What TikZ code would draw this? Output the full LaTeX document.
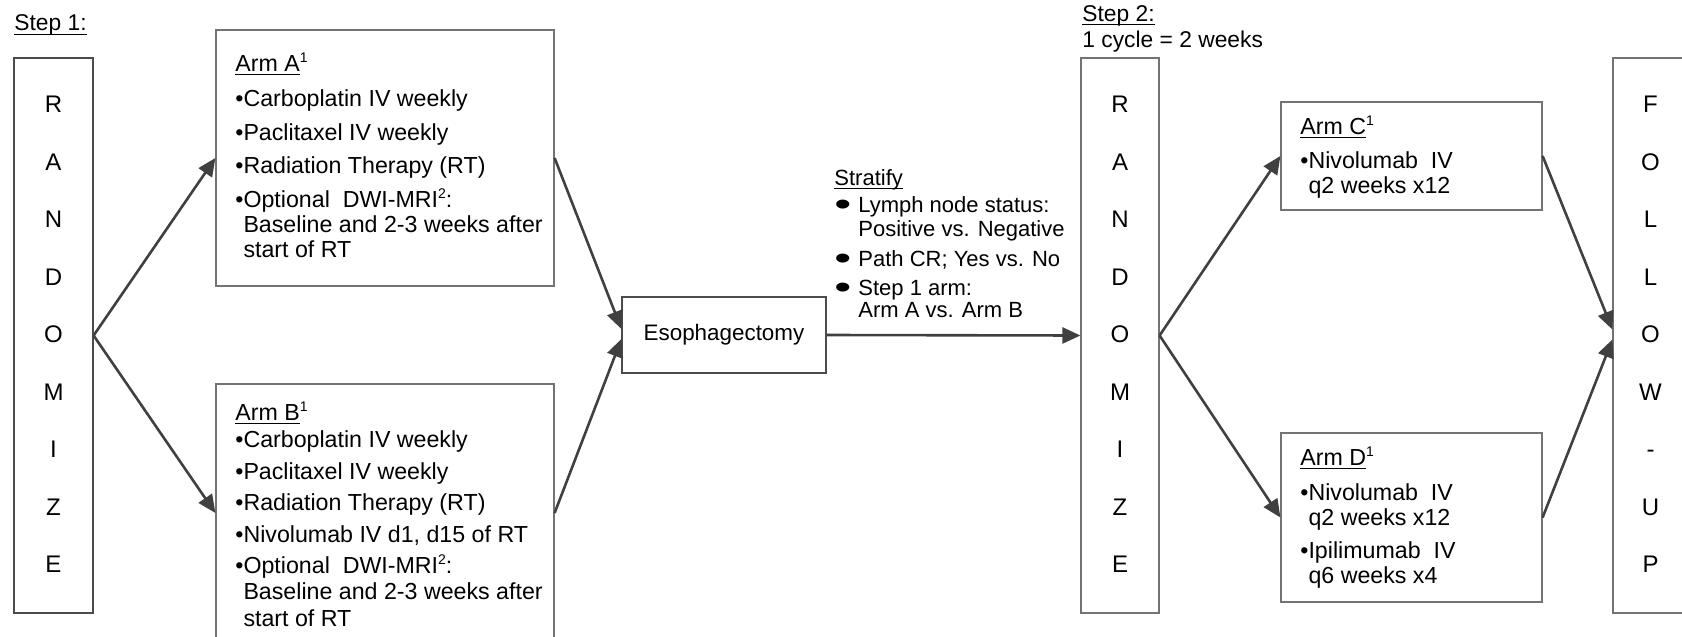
\documentclass[tikz,border=0pt]{standalone}
\usepackage{fontspec}
\setmainfont{Liberation Sans}
\usepackage{graphicx}
\usetikzlibrary{arrows.meta}

% marcador achatado da lista de estratificacao
\newcommand{\stbullet}{\makebox[12pt][l]{\raisebox{-1.6pt}{\scalebox{2.2}[1.5]{\textbullet}}}}
% sublinhado rente a linha de base
\newcommand{\sublin}[1]{\setbox0\hbox{#1}\rlap{\rule[-1.9pt]{\wd0}{0.6pt}}\box0}
% expoente pequeno
\newcommand{\expo}[1]{\raisebox{4.6pt}{\fontsize{7}{7}\selectfont #1}}

\begin{document}
\begin{tikzpicture}[x=0.5pt, y=-0.5pt,
    font=\fontsize{11.6}{12.5}\selectfont,
    caixa/.style 2 args={draw=black!55, line width=0.6pt, inner sep=0pt,
      minimum width=#1*0.5pt, minimum height=#2*0.5pt},
    letra/.style={inner sep=0pt, text height=8.6pt, text depth=0pt, font=\fontsize{12}{12}\selectfont},
    texto/.style={anchor=north west, inner sep=0pt, align=left},
    seta/.style={draw=black!75, line width=1.3pt, -{Triangle[length=9pt,width=8pt]}}]
  \useasboundingbox (0,0) rectangle (1682,637);
  % Titulos das etapas
  \node[anchor=base west, inner sep=0pt, font=\fontsize{11.4}{12}\selectfont] (passo1) at (14,31) {\sublin{Step 1:}};
  \node[anchor=base west, inner sep=0pt, font=\fontsize{11.4}{12}\selectfont] (passo2) at (1082,21) {\sublin{Step 2:}};
  \node[anchor=base west, inner sep=0pt, font=\fontsize{11.4}{12}\selectfont] (ciclo) at (1082,47) {1 cycle = 2 weeks};
  % Caixas verticais
  \node[caixa={79}{555}, draw=black!70] (rand1) at (53.5,335.5) {};
  \node[caixa={78}{555}] (rand2) at (1120,335.5) {};
  \node[caixa={79}{555}] (segue) at (1652.5,335.5) {};
  \foreach \l [count=\i] in {R,A,N,D,O,M,I,Z,E} {
    \node[letra] (ra\i) at (53.5,{104+57.5*(\i-1)}) {\l};
    \node[letra] (rb\i) at (1120,{104+57.5*(\i-1)}) {\l};
  }
  \foreach \l [count=\i] in {F,O,L,L,O,W,-,U,P}
    \node[letra] (fu\i) at (1650.5,{104+57.5*(\i-1)}) {\l};
  % Bracos do passo 1
  \node[caixa={338}{256}] (armA) at (385,158) {};
  \node[caixa={338}{258}] (armB) at (385,513) {};
  \node[texto] (txtA) at (235,49) {\rule{0pt}{11pt}\sublin{Arm A}\expo{1}\\[5pt]
    \textbullet Carboplatin IV weekly\\[4.5pt]
    \textbullet Paclitaxel IV weekly\\[4pt]
    \textbullet Radiation Therapy (RT)\\[4.5pt]
    \textbullet Optional\ \ DWI-MRI\expo{2}:\\
    \phantom{\textbullet}Baseline and 2-3 weeks after\\
    \phantom{\textbullet}start of RT};
  \node[texto] (txtB) at (235,398) {\rule{0pt}{11pt}\sublin{Arm B}\expo{1}\\[1pt]
    \textbullet Carboplatin IV weekly\\[3.3pt]
    \textbullet Paclitaxel IV weekly\\[3.3pt]
    \textbullet Radiation Therapy (RT)\\[3.3pt]
    \textbullet Nivolumab IV d1, d15 of RT\\[3.3pt]
    \textbullet Optional\ \ DWI-MRI\expo{2}:\\[0.3pt]
    \phantom{\textbullet}Baseline and 2-3 weeks after\\[1pt]
    \phantom{\textbullet}start of RT};
  % Cirurgia e estratificacao
  \node[caixa={204}{76}, draw=black!70, font=\fontsize{11.2}{12}\selectfont] (esof) at (724,335) {Esophagectomy};
  \node[texto, font=\fontsize{11}{12.5}\selectfont] (estrat) at (834,163) {\rule{0pt}{11pt}\sublin{Stratify}\\[1pt]
    \stbullet Lymph node status:\\[-0.5pt]
    \hspace*{12pt}Positive vs. Negative\\[2.5pt]
    \stbullet Path CR; Yes vs. No\\[2pt]
    \stbullet Step 1 arm:\\[-1.5pt]
    \hspace*{12pt}Arm A vs. Arm B};
  % Bracos do passo 2
  \node[caixa={261}{108}] (armC) at (1411.5,156) {};
  \node[caixa={261}{169}] (armD) at (1411.5,517.5) {};
  \node[texto] (txtC) at (1300,112) {\rule{0pt}{11pt}\sublin{Arm C}\expo{1}\\[4.5pt]
    \textbullet Nivolumab\ \ IV\\
    \phantom{\textbullet}q2 weeks x12};
  \node[texto] (txtD) at (1300,443) {\rule{0pt}{11pt}\sublin{Arm D}\expo{1}\\[5pt]
    \textbullet Nivolumab\ \ IV\\
    \phantom{\textbullet}q2 weeks x12\\[4pt]
    \textbullet Ipilimumab\ \ IV\\
    \phantom{\textbullet}q6 weeks x4};
  % Setas
  \draw[seta] (rand1.east) -- (armA.west);
  \draw[seta] (rand1.east) -- (armB.west);
  \draw[seta] (armA.east) -- ([yshift=3pt]esof.west);
  \draw[seta] (armB.east) -- ([yshift=-2pt]esof.west);
  \draw[seta] (esof.east) -- (rand2.west);
  \draw[seta] (rand2.east) -- (armC.west);
  \draw[seta] (rand2.east) -- (armD.west);
  \draw[seta] (armC.east) -- ([yshift=3pt]segue.west);
  \draw[seta] (armD.east) -- ([yshift=-2pt]segue.west);
\end{tikzpicture}
\end{document}
